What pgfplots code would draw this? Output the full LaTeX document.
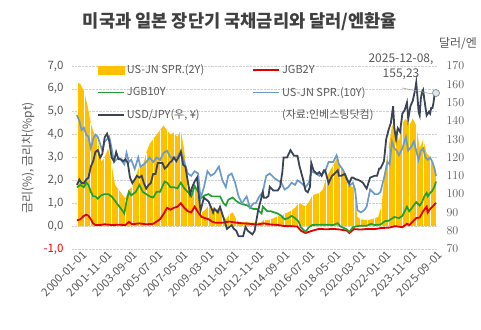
\documentclass[border=0pt]{standalone}
\usepackage{pgfplots}
\pgfplotsset{compat=1.18}
\usepackage{pgfplotstable}
\usepackage{fontspec}
\setmainfont{Noto Sans CJK KR}
\definecolor{cOrange}{HTML}{FFC000}
\definecolor{cRed}{HTML}{E00000}
\definecolor{cGreen}{HTML}{1FA12F}
\definecolor{cBlue}{HTML}{6A9BC9}
\definecolor{cDark}{HTML}{3B4456}
\definecolor{cText}{HTML}{595959}
\definecolor{cTitle}{HTML}{404040}
\definecolor{cGrid}{HTML}{D0D0D0}

\pgfplotstableread{
x y
2000.00 6.3
2000.25 6.2
2000.50 5.9
2000.75 5.3
2001.00 4.5
2001.25 4.0
2001.50 3.8
2001.75 2.8
2002.00 3.0
2002.25 3.4
2002.50 2.7
2002.75 1.8
2003.00 1.6
2003.25 1.4
2003.50 1.2
2003.75 1.6
2004.00 1.7
2004.25 2.2
2004.50 2.6
2004.75 2.6
2005.00 3.2
2005.25 3.6
2005.50 3.8
2005.75 4.0
2006.00 4.2
2006.25 4.4
2006.50 4.2
2006.75 4.0
2007.00 4.1
2007.25 3.9
2007.50 4.2
2007.75 3.3
2008.00 1.8
2008.25 1.4
2008.50 1.9
2008.75 1.3
2009.00 0.6
2009.25 0.7
2009.50 0.9
2009.75 0.8
2010.00 0.7
2010.25 0.8
2010.50 0.5
2010.75 0.3
2011.00 0.5
2011.25 0.6
2011.50 0.3
2011.75 0.15
2012.00 0.15
2012.25 0.2
2012.50 0.15
2012.75 0.15
2013.00 0.18
2013.25 0.15
2013.50 0.28
2013.75 0.25
2014.00 0.3
2014.25 0.35
2014.50 0.45
2014.75 0.4
2015.00 0.55
2015.25 0.6
2015.50 0.7
2015.75 0.8
2016.00 1.0
2016.25 0.95
2016.50 0.85
2016.75 1.05
2017.00 1.35
2017.25 1.4
2017.50 1.45
2017.75 1.6
2018.00 2.1
2018.25 2.4
2018.50 2.65
2018.75 2.95
2019.00 2.6
2019.25 2.45
2019.50 1.9
2019.75 1.75
2020.00 1.7
2020.25 0.4
2020.50 0.3
2020.75 0.28
2021.00 0.25
2021.25 0.3
2021.50 0.35
2021.75 0.4
2022.00 0.9
2022.25 2.5
2022.50 3.4
2022.75 4.4
2023.00 4.4
2023.25 3.7
2023.50 4.5
2023.75 4.7
2024.00 4.4
2024.25 4.7
2024.50 4.4
2024.75 3.4
2025.00 3.8
2025.25 3.2
2025.50 3.0
2025.75 2.7
2025.93 2.3
}\sprtwo

\pgfplotstableread{
x y
2000.00 0.25
2000.25 0.30
2000.50 0.45
2000.67 0.50
2000.83 0.45
2001.00 0.30
2001.17 0.12
2001.33 0.05
2001.67 0.05
2002.00 0.08
2002.50 0.05
2003.00 0.06
2003.50 0.05
2003.75 0.18
2004.00 0.08
2004.50 0.12
2005.00 0.08
2005.50 0.10
2006.00 0.30
2006.33 0.60
2006.50 0.80
2006.75 0.72
2007.00 0.80
2007.25 0.85
2007.50 1.00
2007.75 0.80
2008.00 0.65
2008.25 0.60
2008.50 0.85
2008.75 0.60
2009.00 0.40
2009.25 0.35
2009.50 0.30
2009.75 0.20
2010.00 0.15
2010.50 0.15
2011.00 0.20
2011.50 0.15
2012.00 0.12
2012.50 0.10
2013.00 0.07
2013.50 0.12
2014.00 0.07
2014.50 0.05
2015.00 0.00
2015.50 0.00
2015.92 -0.02
2016.17 -0.20
2016.50 -0.30
2016.75 -0.25
2017.00 -0.20
2017.50 -0.12
2018.00 -0.14
2018.50 -0.12
2019.00 -0.15
2019.50 -0.20
2019.67 -0.30
2020.00 -0.13
2020.50 -0.15
2021.00 -0.12
2021.50 -0.13
2022.00 -0.08
2022.50 -0.07
2023.00 0.00
2023.50 -0.05
2023.83 0.10
2024.00 0.05
2024.25 0.20
2024.50 0.35
2024.75 0.38
2025.00 0.65
2025.25 0.85
2025.33 0.60
2025.50 0.75
2025.75 0.90
2025.93 1.02
}\jgbtwo

\pgfplotstableread{
x y
2000.00 1.70
2000.25 1.80
2000.50 1.70
2000.67 1.90
2000.83 1.80
2001.00 1.50
2001.17 1.30
2001.33 1.30
2001.50 1.20
2001.75 1.35
2002.00 1.40
2002.25 1.40
2002.50 1.30
2002.75 1.10
2003.00 0.90
2003.25 0.70
2003.42 0.55
2003.58 1.10
2003.75 1.50
2003.92 1.35
2004.25 1.50
2004.50 1.80
2004.75 1.50
2005.00 1.40
2005.25 1.30
2005.50 1.25
2005.75 1.50
2006.00 1.50
2006.33 1.95
2006.50 1.90
2006.75 1.70
2007.00 1.70
2007.25 1.65
2007.50 1.90
2007.75 1.65
2008.00 1.50
2008.25 1.30
2008.50 1.75
2008.75 1.50
2008.92 1.20
2009.25 1.35
2009.50 1.40
2009.75 1.30
2010.00 1.30
2010.33 1.30
2010.58 1.00
2010.75 0.90
2010.92 1.15
2011.25 1.25
2011.50 1.10
2011.75 1.00
2012.00 0.95
2012.33 0.90
2012.50 0.80
2012.75 0.75
2013.00 0.75
2013.33 0.55
2013.42 0.85
2013.75 0.65
2014.00 0.65
2014.50 0.55
2014.75 0.45
2015.00 0.30
2015.25 0.35
2015.50 0.45
2015.75 0.35
2016.00 0.20
2016.17 -0.05
2016.50 -0.25
2016.75 -0.05
2017.00 0.05
2017.50 0.06
2018.00 0.06
2018.50 0.05
2018.83 0.13
2019.00 0.00
2019.50 -0.15
2019.67 -0.25
2019.92 -0.05
2020.25 0.00
2020.50 0.02
2020.92 0.02
2021.25 0.10
2021.50 0.05
2021.92 0.07
2022.25 0.22
2022.50 0.23
2022.92 0.40
2023.25 0.35
2023.50 0.45
2023.83 0.85
2024.00 0.65
2024.25 0.85
2024.50 1.05
2024.75 0.90
2024.92 1.05
2025.08 1.30
2025.25 1.45
2025.33 1.30
2025.50 1.45
2025.67 1.55
2025.83 1.75
2025.93 1.95
}\jgbten

\pgfplotstableread{
x y
2000.00 4.85
2000.17 4.60
2000.33 4.20
2000.50 4.30
2000.67 4.00
2000.83 3.90
2001.00 3.40
2001.17 3.80
2001.33 4.00
2001.50 3.90
2001.67 3.60
2001.83 3.30
2002.00 3.70
2002.17 3.80
2002.33 3.90
2002.50 3.40
2002.67 2.80
2002.83 2.90
2003.00 3.00
2003.17 2.90
2003.42 2.70
2003.58 3.20
2003.75 2.80
2003.92 2.90
2004.17 2.50
2004.42 3.00
2004.58 2.60
2004.83 2.70
2005.00 2.80
2005.25 3.00
2005.50 2.80
2005.75 3.00
2006.00 2.90
2006.25 3.20
2006.50 3.30
2006.75 3.00
2007.00 3.00
2007.25 3.00
2007.50 3.30
2007.75 2.80
2008.00 2.30
2008.25 2.20
2008.50 2.40
2008.75 2.30
2008.92 1.20
2009.17 1.70
2009.42 2.40
2009.67 2.20
2009.92 2.30
2010.25 2.60
2010.50 2.00
2010.75 1.70
2010.92 2.20
2011.17 2.30
2011.42 1.90
2011.67 1.30
2011.92 1.00
2012.25 1.30
2012.50 0.80
2012.75 1.00
2012.92 1.00
2013.17 1.30
2013.42 1.50
2013.67 2.20
2013.92 2.30
2014.25 2.10
2014.50 2.00
2014.75 1.90
2015.00 1.60
2015.25 1.70
2015.50 1.90
2015.75 1.80
2015.92 2.00
2016.17 1.90
2016.50 1.70
2016.75 1.90
2016.92 2.40
2017.25 2.30
2017.50 2.20
2017.75 2.30
2017.92 2.40
2018.17 2.80
2018.50 2.80
2018.75 3.10
2018.92 2.70
2019.17 2.50
2019.42 2.20
2019.67 1.75
2019.92 1.90
2020.08 1.60
2020.25 0.70
2020.50 0.60
2020.75 0.70
2020.92 0.85
2021.17 1.60
2021.50 1.40
2021.75 1.40
2021.92 1.50
2022.17 2.10
2022.42 2.80
2022.58 2.70
2022.75 3.70
2022.92 3.40
2023.08 3.30
2023.25 3.10
2023.50 3.40
2023.75 3.90
2023.92 3.30
2024.17 3.50
2024.33 3.70
2024.50 3.30
2024.67 2.90
2024.83 3.30
2025.00 3.40
2025.17 3.00
2025.33 2.90
2025.50 3.00
2025.67 2.80
2025.83 2.50
2025.93 2.20
}\sprten

\pgfplotstableread{
x y
2000.00 105
2000.17 108
2000.33 106
2000.50 106
2000.67 108
2000.83 109
2001.00 115
2001.17 118
2001.33 123
2001.50 124
2001.67 120
2001.83 122
2002.00 131
2002.17 133
2002.33 129
2002.50 120
2002.67 118
2002.83 123
2003.00 119
2003.17 119
2003.33 118
2003.50 119
2003.67 117
2003.83 109
2004.00 106
2004.17 108
2004.33 110
2004.50 109
2004.67 110
2004.83 106
2005.00 103
2005.17 105
2005.33 106
2005.50 111
2005.67 111
2005.83 117
2006.00 117
2006.17 117
2006.33 114
2006.50 115
2006.67 117
2006.83 118
2007.00 120
2007.17 118
2007.33 120
2007.50 123
2007.67 116
2007.83 115
2008.00 107
2008.17 100
2008.33 104
2008.50 107
2008.67 109
2008.83 97
2008.92 91
2009.17 98
2009.33 97
2009.50 96
2009.67 93
2009.83 90
2009.92 92
2010.17 90
2010.33 93
2010.50 89
2010.67 85
2010.83 81
2011.00 82
2011.17 83
2011.33 81
2011.50 80
2011.67 77
2011.83 77
2012.00 77
2012.17 82
2012.33 80
2012.50 79
2012.67 78
2012.83 80
2012.92 84
2013.08 91
2013.25 96
2013.42 101
2013.50 98
2013.67 98
2013.83 99
2013.92 104
2014.17 102
2014.50 102
2014.67 104
2014.83 112
2014.92 120
2015.17 120
2015.42 124
2015.67 121
2015.83 121
2015.92 121
2016.08 115
2016.33 108
2016.50 102
2016.67 101
2016.83 104
2016.92 117
2017.08 113
2017.33 111
2017.50 112
2017.67 110
2017.83 113
2017.92 113
2018.17 106
2018.42 110
2018.58 111
2018.83 113
2018.92 110
2019.08 110
2019.33 111
2019.50 108
2019.67 106
2019.83 109
2019.92 109
2020.17 108
2020.25 108
2020.50 107
2020.67 106
2020.83 104
2020.92 103
2021.17 109
2021.50 110
2021.67 110
2021.83 114
2021.92 114
2022.17 118
2022.33 130
2022.50 135
2022.67 139
2022.83 148
2022.92 136
2023.04 130
2023.17 136
2023.33 134
2023.50 144
2023.67 146
2023.83 150
2023.92 141
2024.08 148
2024.25 151
2024.42 157
2024.50 161
2024.58 154
2024.67 145
2024.75 143
2024.83 152
2024.92 156
2025.00 157
2025.08 152
2025.25 143
2025.42 145
2025.50 144
2025.58 147
2025.67 147
2025.75 150
2025.83 155
2025.93 155.23
}\usdjpy

\begin{document}
\begin{tikzpicture}[x=1pt,y=1pt]
\useasboundingbox (0,0) rectangle (481,329);
\node[text=cTitle, font=\fontsize{17.6}{20}\selectfont\bfseries] at (240,307) {미국과 일본 장단기 국채금리와 달러/엔환율};
\node[text=cText, font=\fontsize{12}{14}\selectfont] at (458,285) {달러/엔};
\node[text=cText, font=\fontsize{12}{14}\selectfont] at (401,270) {2025-12-08,};
\node[text=cText, font=\fontsize{12}{14}\selectfont] at (401,255) {155,23};

\begin{axis}[
  at={(72pt,80pt)}, anchor=south west,
  width=365pt, height=183pt, scale only axis,
  xmin=1999.64, xmax=2026.0, ymin=-1, ymax=7,
  axis line style={draw=none},
  major tick length=0pt,
  ytick={-1,0,1,2,3,4,5,6,7},
  yticklabels={{\textcolor{red}{-1,0}},{0,0},{1,0},{2,0},{3,0},{4,0},{5,0},{6,0},{7,0}},
  yticklabel style={text=cText, font=\fontsize{11.5}{13}\selectfont, xshift=-5pt},
  ymajorgrids, grid style={densely dotted, cGrid, line width=0.6pt},
  xtick={2000,2001.8333,2003.6667,2005.5,2007.3333,2009.1667,2011,2012.8333,2014.6667,2016.5,2018.3333,2020.1667,2022,2023.8333,2025.6667},
  xticklabels={2000-01-01,2001-11-01,2003-09-01,2005-07-01,2007-05-01,2009-03-01,2011-01-01,2012-11-01,2014-09-01,2016-07-01,2018-05-01,2020-03-01,2022-01-01,2023-11-01,2025-09-01},
  xticklabel style={rotate=45, anchor=east, text=cText, font=\fontsize{11.3}{13}\selectfont, xshift=6pt, yshift=-8.5pt},
  ylabel={금리(\%), 금리차(\%pt)},
  ylabel style={at={(axis description cs:-0.1205,0.497)}, anchor=center, text=cText, font=\fontsize{12}{14}\selectfont},
  legend columns=2,
  legend style={at={(0.06,1.03)}, anchor=north west, draw=none, fill=none,
    font=\fontsize{11}{13}\selectfont, text=cText,
    cells={anchor=west}, row sep=8pt,
    /tikz/every even column/.append style={column sep=46pt}},
]
\addplot[fill=cOrange, draw=none, forget plot] table[x=x,y=y] {\sprtwo} \closedcycle;
\addplot[ycomb, white, line width=0.7pt, each nth point=2, forget plot] table[x=x,y=y] {\sprtwo};
\addplot[cRed, line width=1.8pt, forget plot] table[x=x,y=y] {\jgbtwo};
\addplot[cGreen, line width=1.7pt, forget plot] table[x=x,y=y] {\jgbten};
\addplot[cBlue, line width=1.7pt, forget plot] table[x=x,y=y] {\sprten};
\addlegendimage{legend image code/.code={\fill[cOrange] (0pt,-4pt) rectangle (26pt,4pt);}}
\addlegendentry{US-JN SPR.(2Y)}
\addlegendimage{legend image code/.code={\draw[cRed, line width=1.8pt] (0pt,0pt) -- (26pt,0pt);}}
\addlegendentry{JGB2Y}
\addlegendimage{legend image code/.code={\draw[cGreen, line width=1.8pt] (0pt,0pt) -- (26pt,0pt);}}
\addlegendentry{JGB10Y}
\addlegendimage{legend image code/.code={\draw[cBlue, line width=1.8pt] (0pt,0pt) -- (26pt,0pt);}}
\addlegendentry{US-JN SPR.(10Y)}
\addlegendimage{legend image code/.code={\draw[cDark, line width=1.8pt] (0pt,0pt) -- (26pt,0pt);}}
\addlegendentry{USD/JPY(우, ¥)}
\addlegendimage{empty legend}
\addlegendentry{(자료:인베스팅닷컴)}
\end{axis}

\begin{axis}[
  at={(72pt,80pt)}, anchor=south west,
  width=365pt, height=183pt, scale only axis,
  xmin=1999.64, xmax=2026.0, ymin=70, ymax=170,
  axis line style={draw=none},
  major tick length=0pt,
  xtick=\empty,
  ytick={70,80,...,170},
  yticklabel pos=right,
  yticklabel style={text=cText, font=\fontsize{11.5}{13}\selectfont, xshift=6pt},
  clip=false,
]
\addplot[cDark, line width=1.8pt] table[x=x,y=y] {\usdjpy};
\addplot[gray!70, line width=0.6pt] coordinates {(2023.47,158.0) (2025.70,154.7)};
\addplot[only marks, mark=*, mark size=3.5pt, mark options={fill=cBlue!25, draw=gray, line width=0.6pt}] coordinates {(2025.93,155.23)};
\end{axis}
\end{tikzpicture}
\end{document}
